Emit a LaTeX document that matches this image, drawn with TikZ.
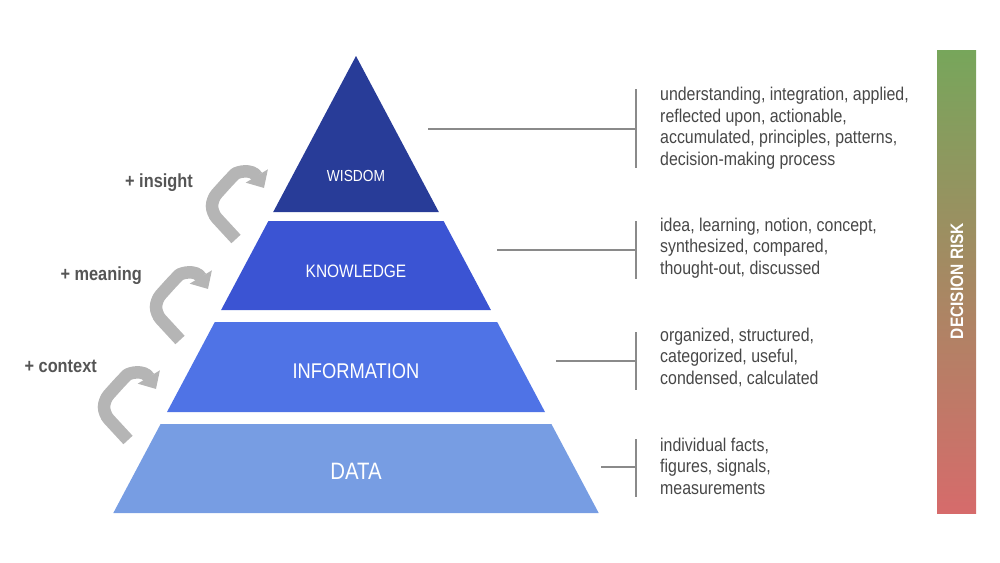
\documentclass[tikz,border=0pt]{standalone}
\usepackage{fontspec}
\setmainfont{Liberation Sans}[FakeStretch=0.86]
\usetikzlibrary{arrows.meta}
\definecolor{cwis}{HTML}{283C98}
\definecolor{ckno}{HTML}{3B54D3}
\definecolor{cinf}{HTML}{4F73E6}
\definecolor{cdat}{HTML}{779DE3}
\definecolor{ctxt}{HTML}{474747}
\definecolor{clab}{HTML}{555555}
\definecolor{cline}{HTML}{8A8A8A}
\definecolor{carr}{HTML}{B5B5B5}
\definecolor{cgreen}{HTML}{77A65B}
\definecolor{cred}{HTML}{D66B6B}
\tikzset{
  layerlabel/.style={text=white, inner sep=0pt},
  desc/.style={anchor=west, align=left, text=ctxt, inner sep=0pt, font=\fontsize{18.5}{21.5}\selectfont},
  plus/.style={anchor=east, text=clab, inner sep=0pt, font=\fontsize{19}{22}\selectfont\bfseries},
  conn/.style={draw=cline, line width=1.4pt},
  curv/.style={draw=carr, line width=12.5pt, -{Triangle[width=25pt,length=14pt]}},
}
\begin{document}
\begin{tikzpicture}[x=1pt,y=-1pt]
\useasboundingbox (0,0) rectangle (1000,562);
% pyramid layers
\fill[cwis] (356,56) -- (438.8,212) -- (273.2,212) -- cycle;
\fill[ckno] (268.4,221) -- (443.6,221) -- (490.9,310) -- (221.1,310) -- cycle;
\fill[cinf] (214.8,322) -- (497.2,322) -- (545.0,412) -- (167.0,412) -- cycle;
\fill[cdat] (160.6,424) -- (551.4,424) -- (598.7,513) -- (113.3,513) -- cycle;
\node[layerlabel, font=\fontsize{16}{18}\selectfont] (wis) at (356,176) {WISDOM};
\node[layerlabel, font=\fontsize{18}{20}\selectfont] (kno) at (356,271) {KNOWLEDGE};
\node[layerlabel, font=\fontsize{21.3}{24}\selectfont] (inf) at (356,371) {INFORMATION};
\node[layerlabel, font=\fontsize{23.7}{26}\selectfont] (dat) at (356,471) {DATA};
% connectors
\coordinate (ws) at (428,129); \coordinate (wb) at (636,129);
\coordinate (wt) at (636,89);  \coordinate (wbt) at (636,168);
\coordinate (ks) at (497,250); \coordinate (kb) at (636,250);
\coordinate (kt) at (636,221); \coordinate (kbt) at (636,279);
\coordinate (is) at (556,361); \coordinate (ib) at (636,361);
\coordinate (it) at (636,332); \coordinate (ibt) at (636,390);
\coordinate (ds) at (601,467); \coordinate (db) at (636,467);
\coordinate (dt) at (636,439); \coordinate (dbt) at (636,497);
\draw[conn] (ws) -- (wb); \draw[conn] (wt) -- (wbt);
\draw[conn] (ks) -- (kb); \draw[conn] (kt) -- (kbt);
\draw[conn] (is) -- (ib); \draw[conn] (it) -- (ibt);
\draw[conn] (ds) -- (db); \draw[conn] (dt) -- (dbt);
% descriptions
\node[desc] (wdesc) at (660,128) {understanding, integration, applied,\\reflected upon, actionable,\\accumulated, principles, patterns,\\decision-making process};
\node[desc] (kdesc) at (660,248) {idea, learning, notion, concept,\\synthesized, compared,\\thought-out, discussed};
\node[desc] (idesc) at (660,357) {organized, structured,\\categorized, useful,\\condensed, calculated};
\node[desc] (ddesc) at (660,466) {individual facts,\\figures, signals,\\measurements};
% decision risk bar
\shade[top color=cgreen, bottom color=cred] (937,50) rectangle (976,513);
\node[rotate=90, text=white, inner sep=0pt, font=\fontsize{18}{20}\selectfont\bfseries] (risk) at (957,281) {DECISION RISK};
% plus labels
\node[plus] (pins) at (193,183) {+ insight};
\node[plus] (pmea) at (142,276) {+ meaning};
\node[plus] (pcon) at (97,366) {+ context};
% curved arrows
\foreach \tx/\ty in {236/239, 180/340, 128/440}{
  \begin{scope}[shift={(\tx,\ty)}]
    \draw[curv] (0,0) [rounded corners=7pt] -- (-24,-26) -- (-24,-40) -- (-6,-60) [sharp corners] .. controls (1,-67) and (16,-71) .. (28,-51);
  \end{scope}
}
\end{tikzpicture}
\end{document}
